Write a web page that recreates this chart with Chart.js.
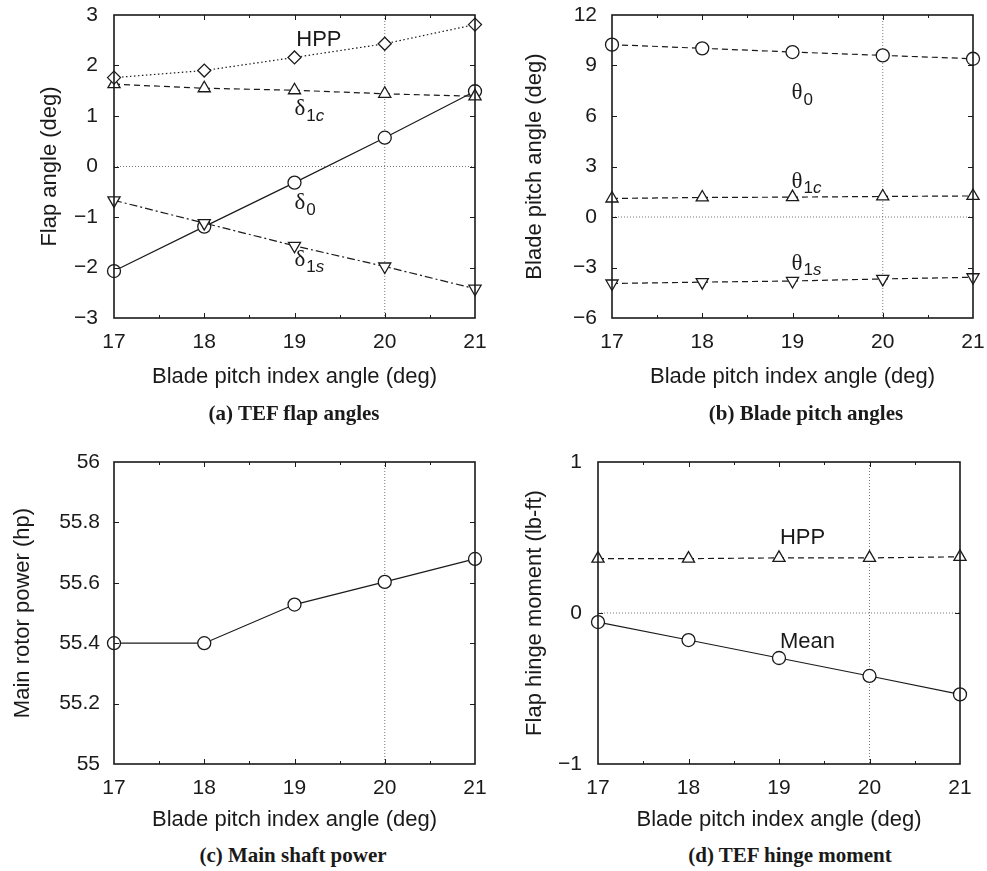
<!DOCTYPE html>
<html>
<head>
<meta charset="utf-8">
<script src="https://cdn.jsdelivr.net/npm/chart.js@4.4.1/dist/chart.umd.min.js"></script>
<style>
  body { margin: 0; background: #fff; width: 987px; height: 871px; position: relative; overflow: hidden; }
  canvas { position: absolute; }
  .cap { position: absolute; font: bold 21px "Liberation Serif", "DejaVu Serif", serif; color: #1a1a1a;
         transform: translate(-50%, -50%); white-space: nowrap; }
</style>
</head>
<body>
<canvas id="flap" width="490" height="392" style="left:0;top:0"></canvas>
<canvas id="pitch" width="497" height="392" style="left:490px;top:0"></canvas>
<canvas id="power" width="490" height="416" style="left:0;top:420px"></canvas>
<canvas id="hinge" width="497" height="416" style="left:490px;top:420px"></canvas>
<div class="cap" style="left:294px;top:413px">(a) TEF flap angles</div>
<div class="cap" style="left:806px;top:413px">(b) Blade pitch angles</div>
<div class="cap" style="left:293px;top:855px">(c) Main shaft power</div>
<div class="cap" style="left:790px;top:855px">(d) TEF hinge moment</div>
<script>
// blade pitch index angle (deg)
const pitchIndex = [17, 18, 19, 20, 21];

// TEF flap angles (deg)
const flapHPP = [1.76, 1.90, 2.16, 2.43, 2.81];
const flapD1c = [1.63, 1.55, 1.51, 1.44, 1.39];
const flapD0 = [-2.07, -1.19, -0.32, 0.57, 1.49];
const flapD1s = [-0.67, -1.12, -1.57, -1.98, -2.42];

// blade pitch angles (deg)
const pitchT0 = [10.24, 10.02, 9.80, 9.60, 9.40];
const pitchT1c = [1.10, 1.16, 1.18, 1.22, 1.25];
const pitchT1s = [-3.95, -3.87, -3.80, -3.68, -3.58];

// main rotor power (hp)
const rotorPower = [55.40, 55.40, 55.528, 55.603, 55.679];

// flap hinge moment (lb-ft)
const hingeHPP = [0.36, 0.36, 0.365, 0.365, 0.372];
const hingeMean = [-0.06, -0.179, -0.298, -0.417, -0.539];

const ink = '#1a1a1a';
const sans = '"Liberation Sans", Arial, sans-serif';
const serif = '"Liberation Serif", "DejaVu Serif", serif';

const minus = v => String(Math.round(v * 100) / 100).replace('-', '\u2212');

function series(values, dash, pointStyle, radius, rotation) {
  return {
    data: values.map((v, i) => ({ x: pitchIndex[i], y: v })),
    borderColor: ink,
    borderWidth: 1.2,
    borderDash: dash,
    pointStyle: pointStyle,
    pointRadius: radius,
    pointRotation: rotation || 0,
    pointBackgroundColor: '#fff',
    pointBorderColor: ink,
    pointBorderWidth: 1.3,
    tension: 0,
    clip: false
  };
}

// keep the plot box where the layout padding puts it (no extra room for edge labels)
function noOverflow(s) {
  s.paddingLeft = s.paddingRight = s.paddingTop = s.paddingBottom = 0;
}

// dotted reference lines under the data
const refLines = {
  id: 'refLines',
  beforeDatasetsDraw(chart, args, opts) {
    const { ctx, chartArea: a, scales: { x, y } } = chart;
    ctx.save();
    ctx.strokeStyle = '#555';
    ctx.lineWidth = 0.8;
    ctx.setLineDash([1, 2]);
    if (opts.refX != null) {
      const px = x.getPixelForValue(opts.refX);
      ctx.beginPath(); ctx.moveTo(px, a.top); ctx.lineTo(px, a.bottom); ctx.stroke();
    }
    if (opts.refY != null) {
      const py = y.getPixelForValue(opts.refY);
      ctx.beginPath(); ctx.moveTo(a.left, py); ctx.lineTo(a.right, py); ctx.stroke();
    }
    ctx.restore();
  }
};

// box with inward tick marks on all sides
const frame = {
  id: 'frame',
  afterDatasetsDraw(chart) {
    const { ctx, chartArea: a, scales: { x, y } } = chart;
    ctx.save();
    ctx.strokeStyle = ink;
    ctx.lineWidth = 1;
    ctx.beginPath();
    for (let v = x.min + 0.5; v < x.max; v += 0.5) {
      const px = Math.round(x.getPixelForValue(v)) + 0.5;
      const len = Number.isInteger(v) ? 5 : 3;
      ctx.moveTo(px, a.bottom); ctx.lineTo(px, a.bottom - len);
      ctx.moveTo(px, a.top); ctx.lineTo(px, a.top + len);
    }
    y.ticks.forEach(t => {
      if (t.value <= y.min || t.value >= y.max) return;
      const py = Math.round(y.getPixelForValue(t.value)) + 0.5;
      ctx.moveTo(a.left, py); ctx.lineTo(a.left + 5, py);
      ctx.moveTo(a.right, py); ctx.lineTo(a.right - 5, py);
    });
    ctx.stroke();
    ctx.lineWidth = 1.6;
    ctx.strokeRect(a.left, a.top, a.right - a.left, a.bottom - a.top);
    ctx.restore();
  }
};

// curve names placed at data coordinates
const curveNames = {
  id: 'curveNames',
  afterDraw(chart, args, opts) {
    const { ctx, scales: { x, y } } = chart;
    ctx.save();
    ctx.fillStyle = ink;
    ctx.textBaseline = 'middle';
    ctx.textAlign = 'left';
    (opts.items || []).forEach(it => {
      let px = x.getPixelForValue(it.x);
      const py = y.getPixelForValue(it.y);
      if (!it.greek) {
        ctx.font = '22px ' + sans;
        ctx.fillText(it.text, px, py);
        return;
      }
      ctx.font = '23px ' + serif;
      ctx.fillText(it.text, px, py);
      px += ctx.measureText(it.text).width + 1;
      ctx.font = '17px ' + sans;
      ctx.fillText(it.num, px, py + 7);
      px += ctx.measureText(it.num).width;
      if (it.sub) {
        ctx.font = 'italic 17px ' + sans;
        ctx.fillText(it.sub, px, py + 7);
      }
    });
    ctx.restore();
  }
};

function panel(id, cfg) {
  return new Chart(document.getElementById(id), {
    type: 'line',
    data: { datasets: cfg.datasets },
    plugins: [refLines, frame, curveNames],
    options: {
      responsive: false,
      animation: false,
      events: [],
      layout: { padding: { top: cfg.padTop, right: cfg.padRight, left: 0, bottom: 0 } },
      plugins: {
        legend: { display: false },
        tooltip: { enabled: false },
        refLines: { refX: 20, refY: cfg.refY },
        curveNames: { items: cfg.names }
      },
      scales: {
        x: {
          type: 'linear',
          min: 17, max: 21,
          grid: { display: false, drawTicks: false },
          border: { display: false },
          afterFit: s => { s.height = cfg.xAxisHeight; noOverflow(s); },
          ticks: { stepSize: 1, padding: 12, color: ink, font: { family: sans, size: 21 }, maxRotation: 0, autoSkip: false },
          title: { display: true, text: 'Blade pitch index angle (deg)', color: ink,
                   font: { family: sans, size: 22 }, padding: { top: 0, bottom: cfg.xTitlePad } }
        },
        y: {
          min: cfg.yMin, max: cfg.yMax,
          grid: { display: false, drawTicks: false },
          border: { display: false },
          afterFit: s => { s.width = cfg.yAxisWidth; noOverflow(s); },
          ticks: { stepSize: cfg.yStep, padding: cfg.yTickPad, color: ink,
                   font: { family: sans, size: 21 }, callback: minus },
          title: { display: true, text: cfg.yTitle, color: ink,
                   font: { family: sans, size: 22 }, padding: { top: cfg.yTitlePad, bottom: 0 } }
        }
      }
    }
  });
}

panel('flap', {
  datasets: [
    series(flapHPP, [1.5, 2.5], 'rectRot', 6.5),
    series(flapD1c, [6, 4], 'triangle', 7),
    series(flapD1s, [8, 3, 2, 3], 'triangle', 7, 180),
    series(flapD0, [], 'circle', 6.5)
  ],
  yMin: -3, yMax: 3, yStep: 1, yTitle: 'Flap angle (deg)',
  yAxisWidth: 114, yTitlePad: 37, yTickPad: 16,
  padTop: 15, padRight: 15, xAxisHeight: 74, xTitlePad: 2, refY: 0,
  names: [
    { x: 19.02, y: 2.51, text: 'HPP' },
    { x: 19.0, y: 1.14, text: '\u03b4', num: '1', sub: 'c', greek: true },
    { x: 19.0, y: -0.73, text: '\u03b4', num: '0', greek: true },
    { x: 19.0, y: -1.85, text: '\u03b4', num: '1', sub: 's', greek: true }
  ]
});

panel('pitch', {
  datasets: [
    series(pitchT0, [6, 4], 'circle', 6.5),
    series(pitchT1c, [6, 4], 'triangle', 7),
    series(pitchT1s, [6, 4], 'triangle', 7, 180)
  ],
  yMin: -6, yMax: 12, yStep: 3, yTitle: 'Blade pitch angle (deg)',
  yAxisWidth: 122, yTitlePad: 32, yTickPad: 15,
  padTop: 15, padRight: 14, xAxisHeight: 74, xTitlePad: 2, refY: 0,
  names: [
    { x: 18.99, y: 7.34, text: '\u03b8', num: '0', greek: true },
    { x: 18.99, y: 2.1, text: '\u03b8', num: '1', sub: 'c', greek: true },
    { x: 18.99, y: -2.77, text: '\u03b8', num: '1', sub: 's', greek: true }
  ]
});

panel('power', {
  datasets: [series(rotorPower, [], 'circle', 6.5)],
  yMin: 55, yMax: 56, yStep: 0.2, yTitle: 'Main rotor power (hp)',
  yAxisWidth: 114, yTitlePad: 10, yTickPad: 14,
  padTop: 42, padRight: 15, xAxisHeight: 72, xTitlePad: 3, refY: null,
  names: []
});

panel('hinge', {
  datasets: [
    series(hingeHPP, [6, 4], 'triangle', 7),
    series(hingeMean, [], 'circle', 6.5)
  ],
  yMin: -1, yMax: 1, yStep: 1, yTitle: 'Flap hinge moment (lb-ft)',
  yAxisWidth: 108, yTitlePad: 32, yTickPad: 16,
  padTop: 42, padRight: 27, xAxisHeight: 72, xTitlePad: 3, refY: 0,
  names: [
    { x: 19.01, y: 0.50, text: 'HPP' },
    { x: 19.01, y: -0.19, text: 'Mean' }
  ]
});
</script>
</body>
</html>
